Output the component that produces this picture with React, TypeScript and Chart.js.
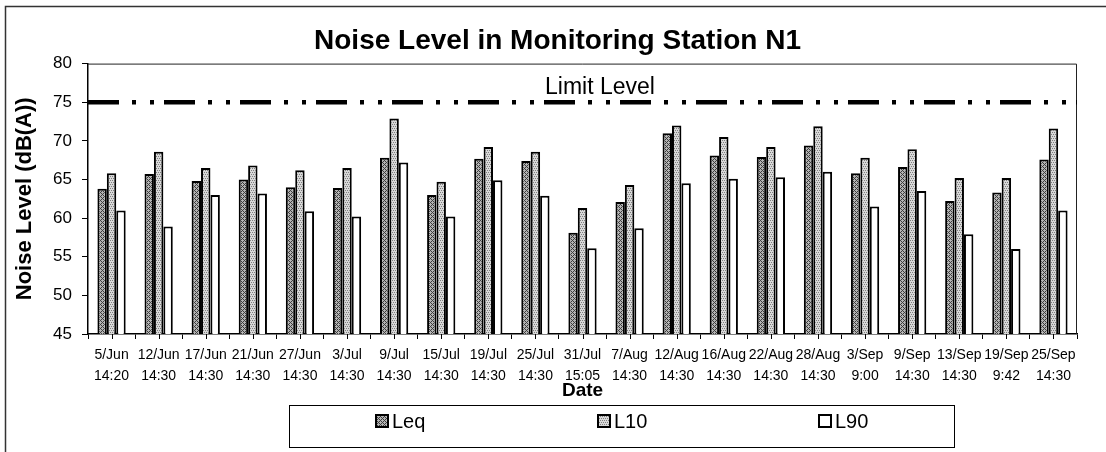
import React, { useEffect, useRef } from "react";
import { Chart, registerables } from "chart.js";

Chart.register(...registerables);

// ---------------- data ----------------
const DATES = ["5/Jun", "12/Jun", "17/Jun", "21/Jun", "27/Jun", "3/Jul", "9/Jul", "15/Jul", "19/Jul", "25/Jul", "31/Jul", "7/Aug", "12/Aug", "16/Aug", "22/Aug", "28/Aug", "3/Sep", "9/Sep", "13/Sep", "19/Sep", "25/Sep"];
const TIMES = ["14:20", "14:30", "14:30", "14:30", "14:30", "14:30", "14:30", "14:30", "14:30", "14:30", "15:05", "14:30", "14:30", "14:30", "14:30", "14:30", "9:00", "14:30", "14:30", "9:42", "14:30"];
const LEQ = [63.8, 65.7, 64.8, 65.0, 64.0, 63.9, 67.8, 63.0, 67.7, 67.4, 58.1, 62.1, 71.0, 68.1, 67.9, 69.4, 65.8, 66.6, 62.2, 63.3, 67.6];
const L10 = [65.8, 68.6, 66.5, 66.8, 66.2, 66.5, 72.9, 64.7, 69.2, 68.6, 61.3, 64.3, 72.0, 70.5, 69.2, 71.9, 67.8, 68.9, 65.2, 65.2, 71.6];
const L90 = [61.0, 58.9, 63.0, 63.2, 60.9, 60.2, 67.2, 60.2, 64.9, 62.9, 56.1, 58.7, 64.5, 65.1, 65.3, 66.0, 61.5, 63.5, 57.9, 56.0, 61.0];
const SERIES_NAMES = ["Leq", "L10", "L90"];
const Y_MIN = 45;
const Y_MAX = 80;
const Y_STEP = 5;
const LIMIT = 75;
const TITLE = "Noise Level in Monitoring Station N1";
const Y_TITLE = "Noise Level (dB(A))";
const X_TITLE = "Date";
const LIMIT_LABEL = "Limit Level";

const FONT = "'Liberation Sans', Arial, Helvetica, sans-serif";

function makePattern(kind: string): CanvasPattern | string {
  const c = document.createElement("canvas");
  c.width = 4;
  c.height = 4;
  const g = c.getContext("2d");
  if (!g) return "#aaa";
  if (kind === "hatch") {
    g.fillStyle = "#b4b4b4";
    g.fillRect(0, 0, 4, 4);
    g.fillStyle = "#3c3c3c";
    for (let x = 0; x < 4; x++)
      for (let y = 0; y < 4; y++)
        if ((x + y) % 4 === 0 || (x - y + 4) % 4 === 0) g.fillRect(x, y, 1, 1);
  } else {
    g.fillStyle = "#d8d8d8";
    g.fillRect(0, 0, 4, 4);
    g.fillStyle = "#808080";
    [[0, 0], [2, 0], [1, 2], [3, 2]].forEach(([x, y]) => g.fillRect(x, y, 1, 1));
  }
  return g.createPattern(c, "repeat") || "#aaa";
}

const decorPlugin = {
  id: "decor",
  afterDraw(chart: any) {
    const { ctx, chartArea: a, scales } = chart;
    const xs = scales.x;
    const ys = scales.y;
    ctx.save();

    // outer frame (left + top)
    ctx.strokeStyle = "#333";
    ctx.lineWidth = 1.5;
    ctx.beginPath();
    ctx.moveTo(5.5, chart.height);
    ctx.lineTo(5.5, 6.5);
    ctx.lineTo(chart.width, 6.5);
    ctx.stroke();

    // plot box top / right
    ctx.strokeStyle = "#222";
    ctx.lineWidth = 1;
    ctx.beginPath();
    ctx.moveTo(a.left, a.top + 0.5);
    ctx.lineTo(a.right - 0.5, a.top + 0.5);
    ctx.lineTo(a.right - 0.5, a.bottom);
    ctx.stroke();

    // tick marks at category centres
    ctx.strokeStyle = "#000";
    ctx.lineWidth = 1;
    ctx.beginPath();
    for (let i = 0; i < xs.ticks.length; i++) {
      const px = Math.round(xs.getPixelForTick(i)) + 0.5;
      ctx.moveTo(px, a.bottom);
      ctx.lineTo(px, a.bottom + 5);
    }
    ctx.stroke();

    // limit line
    const ly = ys.getPixelForValue(LIMIT);
    ctx.setLineDash([31, 13, 4, 14, 4, 10]);
    ctx.lineWidth = 4.5;
    ctx.lineCap = "butt";
    ctx.strokeStyle = "#000";
    ctx.beginPath();
    ctx.moveTo(a.left, ly);
    ctx.lineTo(a.right, ly);
    ctx.stroke();
    ctx.setLineDash([]);

    ctx.fillStyle = "#000";
    ctx.font = `23px ${FONT}`;
    ctx.textAlign = "center";
    ctx.textBaseline = "alphabetic";
    ctx.fillText(LIMIT_LABEL, a.left + (a.right - a.left) * 0.5177, ly - 8);

    // legend
    const box = { x: 289.5, y: 405.5, w: 665, h: 42 };
    ctx.lineWidth = 1;
    ctx.strokeStyle = "#000";
    ctx.strokeRect(box.x, box.y, box.w, box.h);
    ctx.font = `20px ${FONT}`;
    ctx.textAlign = "left";
    const dss = chart.data.datasets;
    const n = dss.length;
    dss.forEach((ds: any, i: number) => {
      const tw = ctx.measureText(ds.label).width;
      const sw = 14;
      const gap = 3;
      const cx = box.x + (i + 0.5) * (box.w / n);
      const sx = Math.round(cx - (sw + gap + tw) / 2);
      const cy = 421;
      ctx.fillStyle = ds.backgroundColor;
      ctx.fillRect(sx, cy - 7, sw, sw);
      ctx.lineWidth = 2;
      ctx.strokeStyle = "#000";
      ctx.strokeRect(sx + 1, cy - 6, sw - 2, sw - 2);
      ctx.fillStyle = "#000";
      ctx.fillText(ds.label, sx + sw + gap, cy + 7);
    });

    ctx.restore();
  },
};

export default function App() {
  const ref = useRef<HTMLCanvasElement>(null);

  useEffect(() => {
    if (!ref.current) return;
    const hatch = makePattern("hatch");
    const stipple = makePattern("stipple");
    const fills = [hatch, stipple, "#ffffff"];
    const values = [LEQ, L10, L90];

    const chart = new Chart(ref.current, {
      type: "bar",
      data: {
        labels: DATES.map((d, i) => [d, TIMES[i]]),
        datasets: SERIES_NAMES.map((name, i) => ({
          label: name,
          data: values[i],
          backgroundColor: fills[i] as any,
          borderColor: "#000",
          borderWidth: 2,
          categoryPercentage: 0.6,
          barPercentage: 1.0,
        })),
      },
      options: {
        animation: false,
        responsive: false,
        devicePixelRatio: 1,
        layout: { padding: { left: 38, right: 29, top: 0, bottom: 50 } },
        plugins: {
          legend: { display: false },
          tooltip: { enabled: false },
          title: {
            display: true,
            text: TITLE,
            color: "#000",
            font: { family: FONT, size: 28, weight: "bold", lineHeight: 1.2 },
            padding: { top: 24, bottom: 6 },
          },
        },
        scales: {
          x: {
            grid: { display: true, drawOnChartArea: false, drawTicks: true, tickLength: 5, color: "#000", offset: true },
            border: { display: true, color: "#000", width: 1.5 },
            ticks: {
              autoSkip: false,
              maxRotation: 0,
              minRotation: 0,
              padding: 5.5,
              color: "#000",
              font: { family: FONT, size: 14, lineHeight: 1.5 },
            },
            title: {
              display: true,
              text: X_TITLE,
              color: "#000",
              font: { family: FONT, size: 19, weight: "bold", lineHeight: 1.2 },
              padding: { top: 0, bottom: 0 },
            },
            afterFit: (s: any) => {
              s.height = 68;
            },
          },
          y: {
            min: Y_MIN,
            max: Y_MAX,
            ticks: { stepSize: Y_STEP, padding: 10, color: "#000", font: { family: FONT, size: 17 } },
            grid: { display: true, drawOnChartArea: false, drawTicks: true, tickLength: 6, color: "#000" },
            border: { display: true, color: "#000", width: 1.5 },
            title: {
              display: true,
              text: Y_TITLE,
              color: "#000",
              font: { family: FONT, size: 22, weight: "bold", lineHeight: 1.2 },
              padding: { top: -26, bottom: 0 },
            },
            afterFit: (s: any) => {
              s.width = 50;
            },
          },
        },
      } as any,
      plugins: [decorPlugin],
    });
    return () => chart.destroy();
  }, []);

  return (
    <div style={{ position: "absolute", left: 0, top: 0, width: 1106, height: 452, background: "#fff" }}>
      <canvas ref={ref} width={1106} height={452} style={{ display: "block", width: 1106, height: 452 }} />
    </div>
  );
}
